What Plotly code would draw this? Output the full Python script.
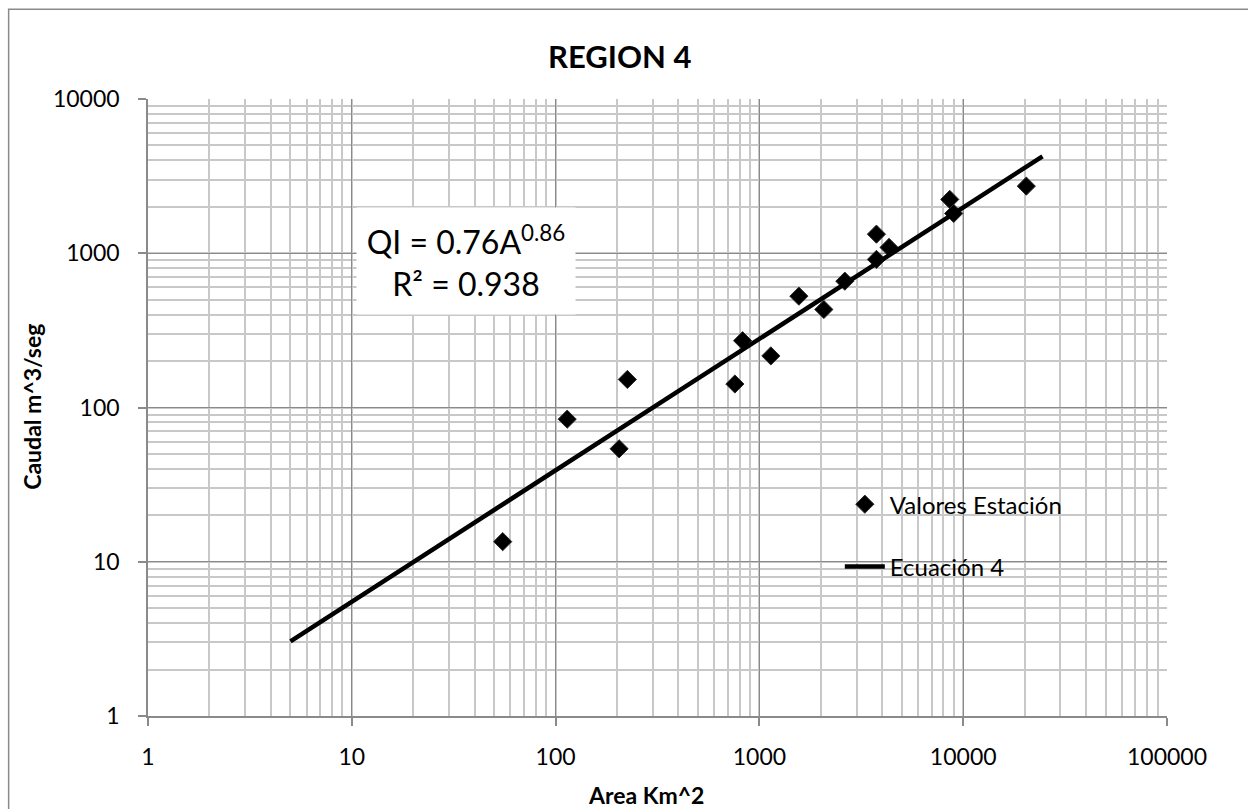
import plotly.graph_objects as go

# ---- data ----
area_km2 = [55, 114, 205, 225, 758, 827, 1138, 1562, 2071, 2625, 3752, 3752, 4327, 8590, 8980, 20400]
caudal = [13.5, 84, 54, 152, 142, 271, 216, 527, 432, 659, 1330, 912, 1091, 2233, 1812, 2723]

ecuacion_x = [5, 24500]
ecuacion_y = [3.05, 4250]

x_tickvals = [1, 10, 100, 1000, 10000, 100000]
x_ticktext = ["1", "10", "100", "1000", "10000", "100000"]
y_tickvals = [1, 10, 100, 1000, 10000]
y_ticktext = ["1", "10", "100", "1000", "10000"]

title_text = "REGION 4"
x_title = "Area Km^2"
y_title = "Caudal m^3/seg"
eq_text = "QI = 0.76A<sup>0.86</sup><br>R² = 0.938"

FONT = "Lato, 'Open Sans', sans-serif"
MAJOR = "#8a8a8a"
MINOR = "#c8c8c8"

W, H = 1248, 809
L, R, T, B = 147.5, 1167.5, 98.7, 716.0
pw, ph = R - L, B - T


def px(xp):
    return (xp - L) / pw


def py(yp):
    return (B - yp) / ph


fig = go.Figure()

fig.add_trace(go.Scatter(
    x=area_km2, y=caudal, mode="markers", name="Valores Estación",
    marker=dict(symbol="diamond", size=14, color="#000000",
                line=dict(color="#2a2a2a", width=1)),
    legendgroup="a",
))
fig.add_trace(go.Scatter(
    x=ecuacion_x, y=ecuacion_y, mode="lines", name="Ecuación 4",
    line=dict(color="#000000", width=4.5),
    legendgroup="b",
))

axis_common = dict(
    type="log",
    showgrid=True, gridcolor=MAJOR, gridwidth=1.3,
    showline=True, linecolor=MAJOR, linewidth=1.5,
    ticks="outside", ticklen=8, tickcolor=MAJOR, tickwidth=1.5,
    tickfont=dict(family=FONT, size=23, color="#000000"),
    minor=dict(dtick="D1", showgrid=True, gridcolor=MINOR, gridwidth=1.5, ticks=""),
    zeroline=False,
    mirror=False,
)

fig.update_xaxes(**axis_common, range=[0, 5], tickvals=x_tickvals, ticktext=x_ticktext,
                 ticklabelstandoff=12)
fig.update_yaxes(**axis_common, range=[0, 4], tickvals=y_tickvals, ticktext=y_ticktext,
                 ticklabelstandoff=14)

shapes = [
    # chart outer border
    dict(type="rect", xref="paper", yref="paper",
         x0=px(8), x1=px(1262), y0=py(822), y1=py(9),
         line=dict(color=MAJOR, width=1.5), fillcolor="rgba(0,0,0,0)", layer="below"),
    # legend background
    dict(type="rect", xref="paper", yref="paper",
         x0=px(798), x1=px(1107), y0=py(601), y1=py(472),
         line=dict(width=0), fillcolor="#ffffff", layer="between"),
]

annotations = [
    dict(text=f"<b>{title_text}</b>", xref="paper", yref="paper",
         x=px(619.5), y=py(56), showarrow=False,
         font=dict(family=FONT, size=31, color="#000000"), xanchor="center", yanchor="middle"),
    dict(text=f"<b>{x_title}</b>", xref="paper", yref="paper",
         x=px(646), y=py(795), showarrow=False,
         font=dict(family=FONT, size=23, color="#000000"), xanchor="center", yanchor="middle"),
    dict(text=f"<b>{y_title}</b>", xref="paper", yref="paper",
         x=px(32), y=py(407), showarrow=False, textangle=-90,
         font=dict(family=FONT, size=23, color="#000000"), xanchor="center", yanchor="middle"),
    dict(text=eq_text, xref="paper", yref="paper",
         x=px(466), y=py(261), showarrow=False, align="center",
         width=214, height=102, bgcolor="#ffffff", borderpad=2,
         font=dict(family=FONT, size=32, color="#000000"), xanchor="center", yanchor="middle"),
]

fig.update_layout(
    width=W, height=H,
    margin=dict(l=L, r=W - R, t=T, b=H - B, autoexpand=False),
    paper_bgcolor="#ffffff", plot_bgcolor="#ffffff",
    showlegend=True,
    legend=dict(
        x=px(840), y=py(482), xanchor="left", yanchor="top",
        bgcolor="rgba(0,0,0,0)", borderwidth=0,
        font=dict(family=FONT, size=24, color="#000000"),
        traceorder="grouped", tracegroupgap=28,
        itemwidth=40,
    ),
    shapes=shapes,
    annotations=annotations,
)

fig.write_html("out.html")
